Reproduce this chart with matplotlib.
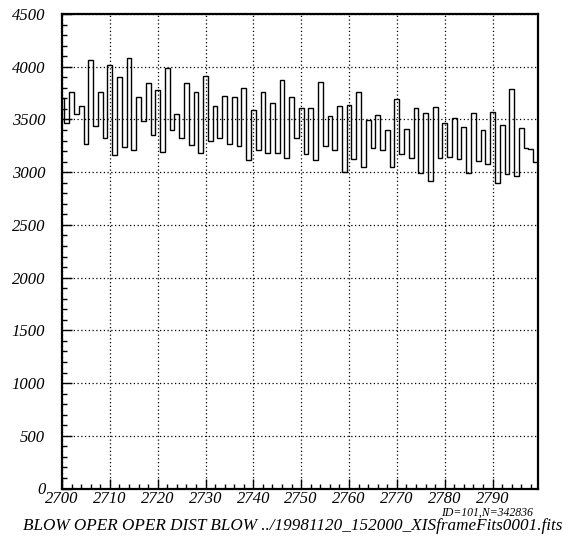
import matplotlib
matplotlib.use("Agg")
import matplotlib.pyplot as plt
import numpy as np
from matplotlib.ticker import MultipleLocator

# channel numbers (bin centres) and counts
channels = np.arange(2700, 2800)
counts = [
    3700, 3470, 3765, 3550, 3630, 3265, 4065, 3435, 3758, 3327,
    4016, 3160, 3902, 3241, 4082, 3214, 3711, 3486, 3842, 3357,
    3779, 3188, 3991, 3399, 3551, 3326, 3842, 3254, 3763, 3182,
    3915, 3295, 3632, 3325, 3718, 3264, 3712, 3250, 3797, 3117,
    3589, 3212, 3760, 3186, 3655, 3180, 3876, 3133, 3712, 3323,
    3608, 3177, 3608, 3117, 3851, 3250, 3528, 3209, 3623, 3000,
    3639, 3124, 3760, 3053, 3494, 3231, 3541, 3212, 3399, 3053,
    3693, 3177, 3411, 3133, 3608, 2990, 3560, 2917, 3614, 3133,
    3465, 3145, 3513, 3123, 3424, 2990, 3560, 3104, 3402, 3076,
    3566, 2896, 3446, 2984, 3791, 2968, 3418, 3228, 3218, 3101,
]
xticks = [2700, 2710, 2720, 2730, 2740, 2750, 2760, 2770, 2780, 2790]
yticks = [0, 500, 1000, 1500, 2000, 2500, 3000, 3500, 4000, 4500]

title_text = "BLOW OPER OPER DIST BLOW ../19981120_152000_XISframeFits0001.fits"
id_text = "ID=101,N=342836"

plt.rcParams['font.family'] = ['Liberation Serif', 'DejaVu Serif']
plt.rcParams['font.style'] = 'italic'

fig = plt.figure(figsize=(5.69, 5.42), dpi=100)
ax = fig.add_axes([62 / 569, 1 - 488.5 / 542, 476 / 569, 474.5 / 542])

edges = np.append(channels - 0.5, channels[-1] + 0.5)
ax.stairs(counts, edges, color='black', linewidth=1.0)

ax.set_xlim(2700, 2799.5)
ax.set_ylim(0, 4500)

ax.set_xticks(xticks)
ax.set_yticks(yticks)
ax.xaxis.set_minor_locator(MultipleLocator(2))
ax.yaxis.set_minor_locator(MultipleLocator(100))
ax.tick_params(which='major', direction='in', length=7, width=1, labelsize=12,
               top=False, right=False)
ax.tick_params(which='minor', direction='in', length=3.5, width=1,
               top=False, right=False)
ax.tick_params(axis='x', pad=2)
ax.tick_params(axis='y', pad=12)
for lab in ax.get_xticklabels() + ax.get_yticklabels():
    lab.set_fontstyle('italic')

ax.grid(True, which='major', linestyle=(0, (1, 2)), color='black', linewidth=0.9)
for sp in ax.spines.values():
    sp.set_linewidth(1.6)

fig.text(23 / 569, 1 - 526 / 542, title_text, fontsize=12.3, style='italic',
         va='center', ha='left')
fig.text(533 / 569, 1 - 513 / 542, id_text, fontsize=8.5, style='italic',
         va='center', ha='right')

fig.savefig("out.png", dpi=100)
